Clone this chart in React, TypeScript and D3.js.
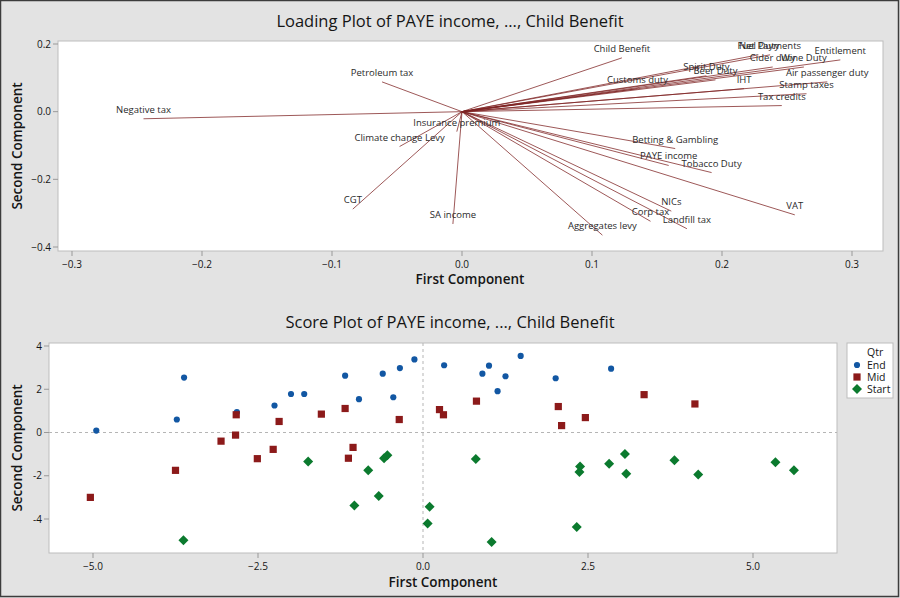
import React from "react";
import * as d3 from "d3";

// ---------- Loading plot data ----------
const loadingNames = [
  "Negative tax", "Petroleum tax", "Climate change Levy", "Insurance premium", "CGT", "SA income",
  "Child Benefit", "Customs duty", "Spirit Duty", "Beer Duty", "IHT", "Net Payments", "Fuel Duty",
  "Cider duty", "Wine Duty", "Entitlement", "Air passenger duty", "Stamp taxes", "Tax credits",
  "Betting & Gambling", "PAYE income", "Tobacco Duty", "VAT", "NICs", "Corp tax", "Landfill tax", "Aggregates levy",
];
const loadingPC1 = [
  -0.245, -0.0615, -0.048, -0.004, -0.084, -0.007,
  0.123, 0.135, 0.188, 0.195, 0.217, 0.237, 0.228,
  0.239, 0.263, 0.291, 0.281, 0.265, 0.246,
  0.164, 0.159, 0.192, 0.256, 0.161, 0.145, 0.173, 0.108,
];
const loadingPC2 = [
  -0.021, 0.088, -0.103, -0.059, -0.288, -0.332,
  0.159, 0.068, 0.106, 0.094, 0.068, 0.168, 0.168,
  0.132, 0.132, 0.153, 0.088, 0.053, 0.018,
  -0.109, -0.159, -0.180, -0.305, -0.294, -0.324, -0.346, -0.365,
];
const loadingXTicks = [-0.3, -0.2, -0.1, 0.0, 0.1, 0.2, 0.3];
const loadingYTicks = [0.2, 0.0, -0.2, -0.4];

// ---------- Score plot data ----------
const endX = [-4.95, -3.73, -3.62, -2.82, -2.25, -2.0, -1.8, -1.18, -0.97, -0.61, -0.45, -0.35, -0.13, 0.32, 0.9, 1.0, 1.13, 1.25, 1.48, 2.01, 2.85];
const endY = [0.09, 0.6, 2.54, 0.94, 1.25, 1.78, 1.78, 2.63, 1.54, 2.72, 1.63, 2.98, 3.38, 3.11, 2.72, 3.09, 1.91, 2.6, 3.54, 2.51, 2.95];
const midX = [-5.04, -3.75, -3.06, -2.84, -2.83, -2.51, -2.27, -2.18, -1.54, -1.18, -1.13, -1.06, -0.36, 0.25, 0.31, 0.81, 2.05, 2.1, 2.46, 3.35, 4.12];
const midY = [-3.0, -1.75, -0.4, -0.12, 0.82, -1.21, -0.78, 0.51, 0.85, 1.11, -1.19, -0.69, 0.6, 1.06, 0.82, 1.45, 1.2, 0.32, 0.69, 1.75, 1.32];
const startX = [-3.63, -1.74, -1.04, -0.83, -0.67, -0.59, -0.54, 0.1, 0.07, 0.8, 1.04, 2.33, 2.38, 2.37, 2.82, 3.06, 3.08, 3.81, 4.17, 5.34, 5.62];
const startY = [-4.98, -1.34, -3.37, -1.75, -2.94, -1.19, -1.05, -3.43, -4.21, -1.22, -5.06, -4.37, -1.57, -1.83, -1.45, -1.0, -1.91, -1.28, -1.94, -1.37, -1.75];
const scoreXTicks = [-5.0, -2.5, 0.0, 2.5, 5.0];
const scoreYTicks = [4, 2, 0, -2, -4];
const groups = ["End", "Mid", "Start"];

const FONT = "'Open Sans', 'Noto Sans', sans-serif";
const BG = "#E3E3E3";
const FRAME = "#BDBDBD";
const TXT = "#151515";
const LINE = "#7E2424";
const groupColors: Record<string, string> = { End: "#1257A3", Mid: "#8C1A1A", Start: "#0B7A2E" };
const groupSizes: Record<string, number> = { End: 30, Mid: 52, Start: 50 };
const groupRot: Record<string, number> = { End: 0, Mid: 0, Start: 45 };
const groupSymbols: Record<string, any> = { End: d3.symbolCircle, Mid: d3.symbolSquare, Start: d3.symbolSquare };

export default function App() {
  const L = { left: 58, right: 883, top: 41, bottom: 251 };
  const lx = d3.scaleLinear().domain([-0.3, 0.3]).range([72, 852]);
  const ly = d3.scaleLinear().domain([-0.4, 0.2]).range([247, 44]);

  const S = { left: 49, right: 837, top: 343, bottom: 553 };
  const sx = d3.scaleLinear().domain([-5, 5]).range([93, 753]);
  const sy = d3.scaleLinear().domain([-4, 4]).range([519, 346]);

  const fmt1 = d3.format(".1f");

  const seriesData = [
    { g: "End", xs: endX, ys: endY },
    { g: "Mid", xs: midX, ys: midY },
    { g: "Start", xs: startX, ys: startY },
  ];
  const sym = (g: string) => d3.symbol().type(groupSymbols[g]).size(groupSizes[g])() || "";

  return (
    <svg width={900} height={598} style={{ position: "absolute", left: 0, top: 0, fontFamily: FONT }}>
      <rect x={0} y={0} width={900} height={598} fill={BG} />
      <rect x={0.5} y={0.5} width={898} height={596} fill="none" stroke="#3C3C3C" strokeWidth={1.5} />

      {/* ---------------- Loading plot ---------------- */}
      <text x={450} y={27} textAnchor="middle" fontSize={16.5} fill={TXT}>
        Loading Plot of PAYE income, ..., Child Benefit
      </text>
      <rect x={L.left} y={L.top} width={L.right - L.left} height={L.bottom - L.top} fill="#fff" stroke={FRAME} strokeWidth={1} />
      {loadingXTicks.map((t) => (
        <g key={"lxt" + t}>
          <line x1={lx(t)} x2={lx(t)} y1={L.bottom} y2={L.bottom + 5} stroke="#999" />
          <text x={lx(t)} y={268} textAnchor="middle" fontSize={10} fill={TXT}>{fmt1(t)}</text>
        </g>
      ))}
      {loadingYTicks.map((t) => (
        <g key={"lyt" + t}>
          <line x1={L.left - 5} x2={L.left} y1={ly(t)} y2={ly(t)} stroke="#999" />
          <text x={L.left - 7} y={ly(t) + 3.5} textAnchor="end" fontSize={10} fill={TXT}>{fmt1(t)}</text>
        </g>
      ))}
      <text x={470} y={284} textAnchor="middle" fontSize={13.5} fontWeight={600} fill={TXT}>First Component</text>
      <text transform={`translate(22,${(L.top + L.bottom) / 2}) rotate(-90)`} textAnchor="middle" fontSize={13.5} fontWeight={600} fill={TXT}>
        Second Component
      </text>
      {loadingNames.map((n, i) => (
        <line key={"ll" + n} x1={lx(0)} y1={ly(0)} x2={lx(loadingPC1[i])} y2={ly(loadingPC2[i])} stroke={LINE} strokeWidth={0.9} strokeOpacity={0.85} />
      ))}
      {loadingNames.map((n, i) => (
        <text key={"lt" + n} x={lx(loadingPC1[i])} y={ly(loadingPC2[i]) - 6} textAnchor="middle" fontSize={9.5} fill="#2a2a2a">
          {n}
        </text>
      ))}

      {/* ---------------- Score plot ---------------- */}
      <text x={450} y={328} textAnchor="middle" fontSize={16.5} fill={TXT}>
        Score Plot of PAYE income, ..., Child Benefit
      </text>
      <rect x={S.left} y={S.top} width={S.right - S.left} height={S.bottom - S.top} fill="#fff" stroke={FRAME} strokeWidth={1} />
      <line x1={S.left} x2={S.right} y1={sy(0)} y2={sy(0)} stroke="#B5B5B5" strokeDasharray="3,3" />
      <line x1={sx(0)} x2={sx(0)} y1={S.top} y2={S.bottom} stroke="#B5B5B5" strokeDasharray="3,3" />
      {scoreXTicks.map((t) => (
        <g key={"sxt" + t}>
          <line x1={sx(t)} x2={sx(t)} y1={S.bottom} y2={S.bottom + 5} stroke="#999" />
          <text x={sx(t)} y={570} textAnchor="middle" fontSize={10} fill={TXT}>{fmt1(t)}</text>
        </g>
      ))}
      {scoreYTicks.map((t) => (
        <g key={"syt" + t}>
          <line x1={S.left - 5} x2={S.left} y1={sy(t)} y2={sy(t)} stroke="#999" />
          <text x={S.left - 7} y={sy(t) + 3.5} textAnchor="end" fontSize={10} fill={TXT}>{t}</text>
        </g>
      ))}
      <text x={(S.left + S.right) / 2} y={587} textAnchor="middle" fontSize={13.5} fontWeight={600} fill={TXT}>First Component</text>
      <text transform={`translate(22,${(S.top + S.bottom) / 2}) rotate(-90)`} textAnchor="middle" fontSize={13.5} fontWeight={600} fill={TXT}>
        Second Component
      </text>
      {seriesData.map((s) =>
        s.xs.map((xv, i) => (
          <path
            key={s.g + i}
            d={sym(s.g)}
            transform={`translate(${sx(xv)},${sy(s.ys[i])}) rotate(${groupRot[s.g]})`}
            fill={groupColors[s.g]}
          />
        ))
      )}

      {/* Legend */}
      <rect x={847} y={343} width={46} height={55} fill="#fff" stroke={FRAME} />
      <text x={867} y={356} fontSize={10.5} fill={TXT}>Qtr</text>
      {groups.map((g, i) => (
        <g key={"lg" + g}>
          <path d={sym(g)} transform={`translate(857,${365 + i * 12}) rotate(${groupRot[g]})`} fill={groupColors[g]} />
          <text x={867} y={368.5 + i * 12} fontSize={10.5} fill={TXT}>{g}</text>
        </g>
      ))}
    </svg>
  );
}
